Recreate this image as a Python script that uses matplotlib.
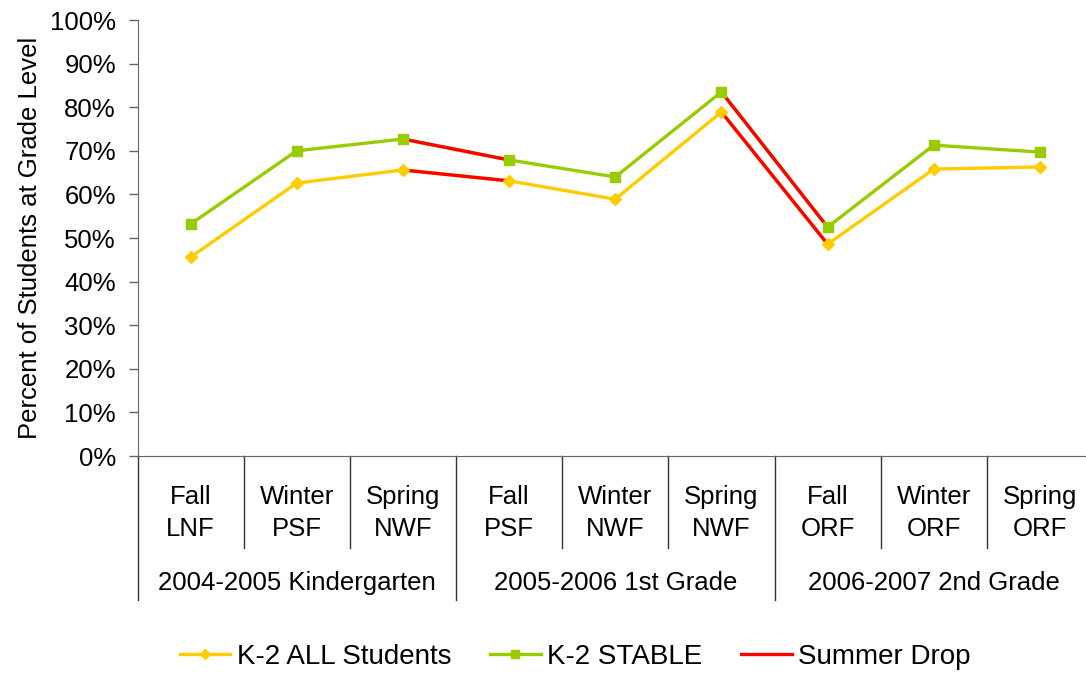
import numpy as np
import matplotlib
matplotlib.use('Agg')
import matplotlib.pyplot as plt
from matplotlib.lines import Line2D
import matplotlib.transforms as mtransforms

plt.rcParams['font.family'] = ['Liberation Sans', 'DejaVu Sans']

seasons = ['Fall\nLNF', 'Winter\nPSF', 'Spring\nNWF',
           'Fall\nPSF', 'Winter\nNWF', 'Spring\nNWF',
           'Fall\nORF', 'Winter\nORF', 'Spring\nORF']
grades = ['2004-2005 Kindergarten', '2005-2006 1st Grade', '2006-2007 2nd Grade']

all_students = [45.6, 62.6, 65.6, 63.1, 58.9, 78.9, 48.6, 65.8, 66.3]
stable = [53.2, 70.0, 72.7, 67.9, 64.0, 83.5, 52.5, 71.3, 69.7]

# summer drop = spring of one year -> fall of next year
drop_pairs = [(2, 3), (5, 6)]

yellow = '#FFCC00'
green = '#99CC00'
red = '#FF0000'
fs = 18.5

fig = plt.figure(figsize=(10.86, 6.73), dpi=100)
W, H = 1086, 673
left, right, top, bottom = 137.5, 1093, 20, 456
ax = fig.add_axes([left / W, 1 - bottom / H, (right - left) / W, (bottom - top) / H])

x = np.arange(len(seasons))

ax.plot(x, all_students, color=yellow, lw=2.4, zorder=2)
ax.plot(x, stable, color=green, lw=2.4, zorder=2)
for a, b in drop_pairs:
    ax.plot([x[a], x[b]], [all_students[a], all_students[b]], color=red, lw=2.4, zorder=3)
    ax.plot([x[a], x[b]], [stable[a], stable[b]], color=red, lw=2.4, zorder=3)
ax.plot(x, all_students, ls='none', marker='D', ms=6.5, color=yellow, zorder=4)
ax.plot(x, stable, ls='none', marker='s', ms=7, color=green, zorder=4)

ax.set_xlim(-0.5, len(seasons) - 0.5)
ax.set_ylim(0, 100)
ax.set_yticks(np.arange(0, 101, 10))
ax.set_yticklabels([f'{v}%' for v in range(0, 101, 10)])
ax.tick_params(axis='y', direction='out', length=6.5, width=1, color='#666666',
               labelsize=fs, pad=9)
ax.set_xticks([])
for s in ['top', 'right']:
    ax.spines[s].set_visible(False)
ax.spines['left'].set_color('#666666')
ax.spines['bottom'].set_color('#666666')
ax.set_ylabel('Percent of Students at Grade Level', fontsize=fs, labelpad=6)

# two-level category axis
trans = mtransforms.blended_transform_factory(ax.transData, ax.transAxes)
inner_depth = -92 / (bottom - top)
outer_depth = -144 / (bottom - top)
for i in range(len(seasons) + 1):
    xb = i - 0.5
    depth = outer_depth if i % 3 == 0 else inner_depth
    ax.plot([xb, xb], [0, depth], color='#333333', lw=1, transform=trans, clip_on=False)
for i, lab in enumerate(seasons):
    ax.text(x[i], -57 / (bottom - top), lab, transform=trans, ha='center', va='center',
            fontsize=fs, linespacing=1.38)
for g, lab in enumerate(grades):
    ax.text(3 * g + 1, -127 / (bottom - top), lab, transform=trans, ha='center',
            va='center', fontsize=fs)

handles = [Line2D([], [], color=yellow, lw=2.4, marker='D', ms=5.5),
           Line2D([], [], color=green, lw=2.4, marker='s', ms=5.5),
           Line2D([], [], color=red, lw=2.4)]
fig.legend(handles, ['K-2 ALL Students', 'K-2 STABLE', 'Summer Drop'],
           loc='center', bbox_to_anchor=(575 / W, 1 - 657 / H), ncol=3, frameon=False,
           fontsize=20, handlelength=1.83, handletextpad=0.22, columnspacing=1.4)

fig.savefig('out.png', dpi=100)
